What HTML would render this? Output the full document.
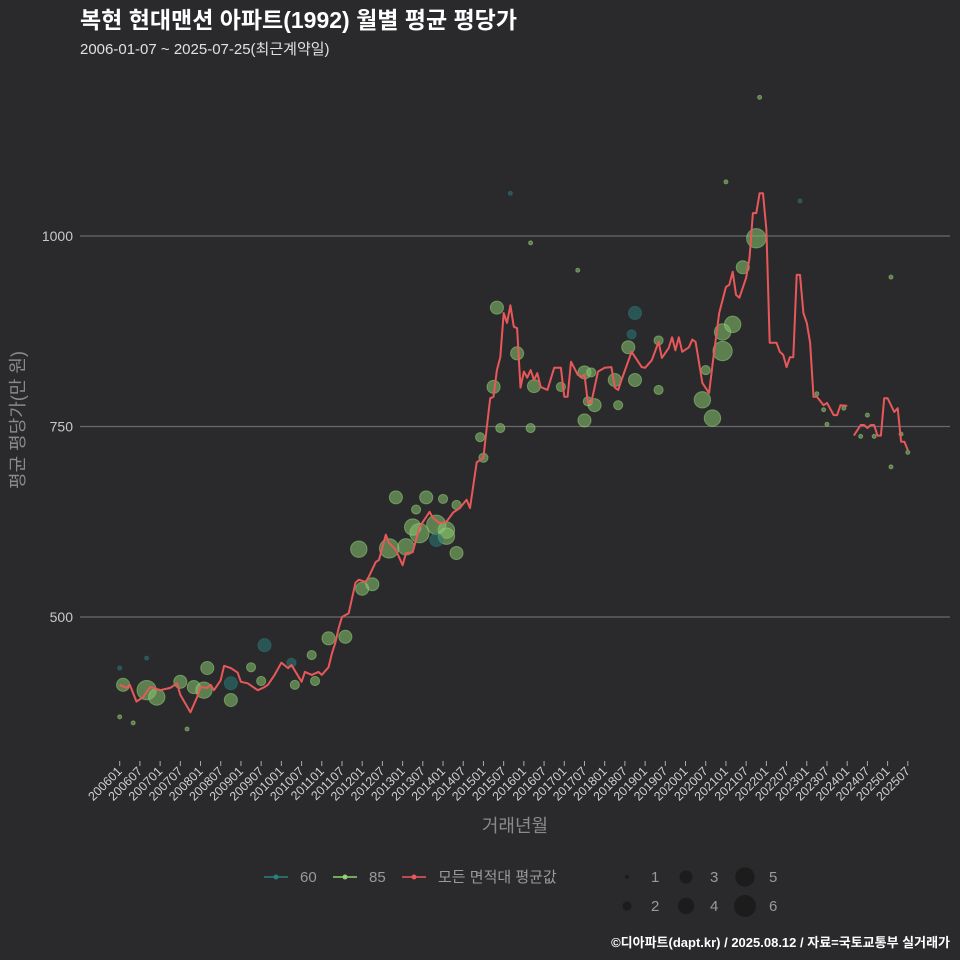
<!DOCTYPE html>
<html><head><meta charset="utf-8">
<style>
html,body{margin:0;padding:0;background:#2a2a2c;}
svg{display:block;font-family:"Liberation Sans","Noto Sans CJK KR",sans-serif;}
</style></head>
<body>
<svg id="chart" width="960" height="960" viewBox="0 0 960 960" xmlns="http://www.w3.org/2000/svg">
<rect width="960" height="960" fill="#2a2a2c"/>
<text x="80" y="28" font-size="23" font-weight="bold" fill="#ffffff">복현 현대맨션 아파트(1992) 월별 평균 평당가</text>
<text x="80" y="54" font-size="15" fill="#e0e0e0">2006-01-07 ~ 2025-07-25(최근계약일)</text>
<g id="grid"></g>
<g id="bubbles"></g>
<g id="line"></g>
<g id="yticks"></g>
<g id="xticks"></g>
<text transform="translate(24,420) rotate(-90)" text-anchor="middle" font-size="18" fill="#8a8a8a">평균 평당가(만 원)</text>
<text x="515" y="832" text-anchor="middle" font-size="18" fill="#8a8a8a">거래년월</text>
<g font-size="15" fill="#9a9a9a">
  <g>
    <line x1="264" y1="877" x2="288" y2="877" stroke="#2a8080" stroke-width="1.5"/>
    <circle cx="276" cy="877" r="2.5" fill="#2a8080"/>
    <text x="300" y="882">60</text>
  </g>
  <g>
    <line x1="333" y1="877" x2="357" y2="877" stroke="#8fd175" stroke-width="1.5"/>
    <circle cx="345" cy="877" r="2.5" fill="#8fd175"/>
    <text x="369" y="882">85</text>
  </g>
  <g>
    <line x1="402" y1="877" x2="426" y2="877" stroke="#e8585a" stroke-width="1.5"/>
    <circle cx="414" cy="877" r="2.5" fill="#e8585a"/>
    <text x="438" y="882">모든 면적대 평균값</text>
  </g>
  <g id="sizeLegend"></g>
</g>
<text x="950" y="947" text-anchor="end" font-size="13" font-weight="bold" fill="#ffffff">©디아파트(dapt.kr) / 2025.08.12 / 자료=국토교통부 실거래가</text>
</svg>
<script>
// month index from 2006-01 (=0)
const lineMonths = [0,2,3,5,7,9,10,12,15,17,18,21,23,24,26,27,28,30,31,33,35,36,38,40,41,43,44,46,48,50,51,54,55,57,59,60,62,63,64,65,66,68,70,71,73,74,76,77,79,80,82,84,85,87,89,92,93,95,97,99,101,103,104,106,108,109,110,111,112,113,114,115,116,117,118,119,120,121,122,123,124,125,127,129,131,132,133,134,136,137,138,139,140,142,144,146,147,148,149,152,155,156,158,160,161,163,164,165,166,167,169,170,171,173,175,176,178,180,181,182,183,184,186,187,188,189,190,191,192,193,195,196,197,198,199,200,201,202,203,204,205,206,207,209,210,212,213,214,216,217,218,220,221,222,223,224,225,226,227,228,229,230,231,232,233,234];
const lineValues = [411,407,411,389,395,408,407,404,407,413,398,375,395,408,407,411,404,417,436,433,427,415,413,407,404,408,411,424,440,433,437,415,428,424,428,424,434,452,466,485,500,505,545,549,546,553,572,575,608,597,588,568,584,585,618,638,630,623,625,637,643,654,643,703,709,749,787,789,824,841,899,886,909,881,879,801,822,814,824,811,820,802,798,827,827,789,789,835,818,815,818,781,781,822,827,828,801,798,811,848,828,827,837,861,840,853,867,850,867,848,854,864,861,807,794,831,899,933,936,953,923,919,945,971,1030,1030,1056,1056,1008,860,860,848,844,828,841,841,949,949,899,886,860,789,789,778,781,765,765,778,777,null,738,752,752,748,752,752,738,738,787,787,778,769,774,730,730,719];

const bubbleMonths = [229,190,180,202,116,122,136,189,112,153,152,179,182,179,185,118,151,160,174,123,111,131,138,140,147,153,141,148,173,176,160,138,139,113,107,108,122,96,100,82,91,89,94,97,97,87,94,100,80,71,85,88,75,72,62,67,57,51,42,26,43,33,25,8,11,1,0,4,20,0,8,39,52,33,18,22,58,215,207,209,210,222,220,234,229,232,224];
const bubbleValues = [946,1182,1071,1046,1056,991,955,997,906,899,871,874,884,849,959,846,854,863,824,803,802,802,821,821,811,811,778,778,785,761,798,758,783,748,736,709,748,655,647,657,657,610,621,614,606,618,601,584,590,589,592,641,543,537,472,474,450,440,416,433,463,413,404,404,395,411,369,361,353,433,446,434,411,391,415,408,416,774,793,772,753,765,737,716,697,740,737];
const bubbleCounts = [1,1,1,1,1,1,1,5,3,3,2,4,4,5,3,3,3,2,2,3,3,2,3,2,3,3,3,2,4,4,2,3,2,2,2,2,2,2,2,3,3,5,5,4,4,4,3,3,5,4,4,2,3,3,3,3,2,2,2,3,3,3,4,5,4,3,1,1,1,1,1,2,2,3,3,3,2,1,1,1,1,1,1,1,1,1,1];
const bubbleAreas = [85,85,85,60,60,85,85,85,85,60,60,85,85,85,85,85,85,85,85,85,85,85,85,85,85,85,85,85,85,85,85,85,85,85,85,85,85,85,85,85,85,85,85,85,85,85,60,85,85,85,85,85,85,85,85,85,85,60,85,85,60,60,85,85,85,85,85,85,85,60,60,85,85,85,85,85,85,85,85,85,85,85,85,85,85,85,85];

const yTicks = [500,750,1000];
const xTickLabels = [];
for (let y = 2006; y <= 2025; y++) { xTickLabels.push(y + "01"); xTickLabels.push(y + "07"); }

const NS = "http://www.w3.org/2000/svg";
function xScale(m){ return 119.7 + m * 3.368; }
function yScale(v){ return 617 - (v - 500) * 0.762; }
function rScale(n){ return 2 + (Math.sqrt(n) - 1) / (Math.sqrt(6) - 1) * 9; }
function mk(tag, attrs, parent){ const e = document.createElementNS(NS, tag); for (const k in attrs) e.setAttribute(k, attrs[k]); parent.appendChild(e); return e; }

const grid = document.getElementById('grid');
const yt = document.getElementById('yticks');
yTicks.forEach(v => {
  const l = mk('line', {x1:80, x2:950, y1:yScale(v), y2:yScale(v), stroke:'#6a6a6a', 'stroke-width':1.2}, grid);
  
  
  const t = mk('text', {x:73, y:yScale(v)+5, 'text-anchor':'end', 'font-size':14, fill:'#c8c8c8'}, yt);
  t.textContent = v;
  
  
});

const xt = document.getElementById('xticks');
xTickLabels.forEach((lab, i) => {
  const x = xScale(i * 6);
  const tk = mk('line', {x1:x, x2:x, y1:761, y2:766, stroke:'#aaaaaa', 'stroke-width':1}, xt);
  
  
  const t = mk('text', {transform:`translate(${x+3},772) rotate(-45)`, 'text-anchor':'end', 'font-size':12.5, fill:'#d0d0d0'}, xt);
  t.textContent = lab;
  
  
});

const bg = document.getElementById('bubbles');
bubbleMonths.forEach((m, i) => {
  const is60 = bubbleAreas[i] === 60;
  const c = mk('circle', {cx:xScale(m), cy:yScale(bubbleValues[i]), r:rScale(bubbleCounts[i]),
    fill: is60 ? '#2a7878' : '#86c46e', 'fill-opacity': 0.55,
    stroke: is60 ? '#2a7878' : '#9ad77f', 'stroke-opacity':0.5, 'stroke-width':1}, bg);
  
  
});

const lg = document.getElementById('line');
let segs = [], cur = [];
lineMonths.forEach((m, i) => {
  if (lineValues[i] === null) { if (cur.length) segs.push(cur); cur = []; }
  else cur.push(xScale(m).toFixed(1) + ',' + yScale(lineValues[i]).toFixed(1));
});
if (cur.length) segs.push(cur);
segs.forEach(s => {
  const p = mk('polyline', {points:s.join(' '), fill:'none', stroke:'#e8585a', 'stroke-width':2, 'stroke-linejoin':'round'}, lg);
  
  
});

const sl = document.getElementById('sizeLegend');
const sizeKeys = [1,2,3,4,5,6];
sizeKeys.forEach((n, i) => {
  const col = Math.floor(i / 2), row = i % 2;
  const cx = 627 + col * 59, cy = 877 + row * 29;
  const c = mk('circle', {cx:cx, cy:cy, r:rScale(n), fill:'#1c1c1c'}, sl);
  
  
  const t = mk('text', {x:cx+24, y:cy+5, 'font-size':15, fill:'#9a9a9a'}, sl);
  t.textContent = n;
  
  
});
</script>
</body></html>
